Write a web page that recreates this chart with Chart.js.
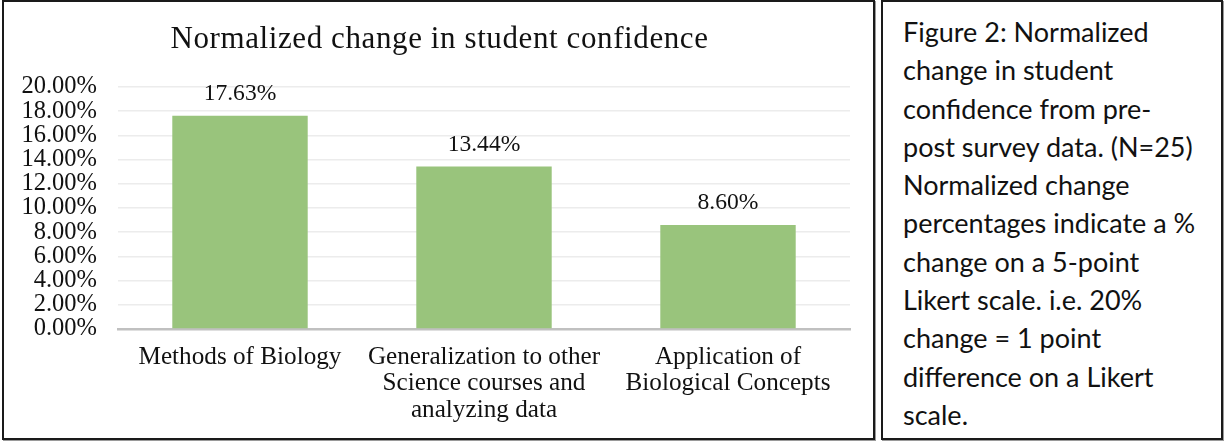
<!DOCTYPE html>
<html>
<head>
<meta charset="utf-8">
<script src="https://cdn.jsdelivr.net/npm/chart.js@4.4.1/dist/chart.umd.min.js"></script>
<style>
  html, body { margin: 0; padding: 0; background: #ffffff; width: 1224px; height: 441px; overflow: hidden; }
  #chartBox {
    position: absolute; left: 2px; top: 0px; width: 869px; height: 436px;
    border: 2px solid #1a1a1a; box-shadow: 1px 1px 0 #9a9a9a;
  }
  #chartBox canvas { display: block; }
  #captionBox {
    position: absolute; left: 881px; top: 0px; width: 338px; height: 436px;
    border: 2px solid #1a1a1a; box-shadow: 1px 1px 0 #9a9a9a;
  }
  #caption {
    position: absolute; left: 20px; top: 11px;
    font-family: Lato, "Open Sans", sans-serif; font-size: 27px; line-height: 38.3px;
    color: #111; white-space: nowrap;
  }
</style>
</head>
<body>
<div id="chartBox"><canvas id="c" width="869" height="436"></canvas></div>
<div id="captionBox"><div id="caption">Figure 2: Normalized<br>change in student<br>confidence from pre-<br>post survey data. (N=25)<br>Normalized change<br>percentages indicate a %<br>change on a 5-point<br>Likert scale. i.e. 20%<br>change = 1 point<br>difference on a Likert<br>scale.</div></div>
<script>
const chartTitle = "Normalized change in student confidence";
const categories = [
  ["Methods of Biology"],
  ["Generalization to other", "Science courses and", "analyzing data"],
  ["Application of", "Biological Concepts"]
];
const values = [0.1763, 0.1344, 0.0860];
const yMin = 0, yMax = 0.20, yStep = 0.02;

const serif = "'Liberation Serif', 'Times New Roman', serif";
const textColor = "#111111";

const titlePlugin = {
  id: "spacedTitle",
  afterDraw(chart) {
    const ctx = chart.ctx;
    ctx.save();
    ctx.font = "31px " + serif;
    ctx.letterSpacing = "0.6px";
    ctx.fillStyle = textColor;
    ctx.textAlign = "center";
    ctx.textBaseline = "alphabetic";
    ctx.fillText(chartTitle, chart.width / 2 + 1, 46);
    ctx.restore();
  }
};

const valueLabels = {
  id: "valueLabels",
  afterDatasetsDraw(chart) {
    const ctx = chart.ctx;
    const meta = chart.getDatasetMeta(0);
    ctx.save();
    ctx.font = "23.6px " + serif;
    ctx.fillStyle = textColor;
    ctx.textAlign = "center";
    ctx.textBaseline = "middle";
    meta.data.forEach((bar, i) => {
      ctx.fillText((values[i] * 100).toFixed(2) + "%", bar.x, bar.y - 22);
    });
    ctx.restore();
  }
};

new Chart(document.getElementById("c"), {
  type: "bar",
  data: {
    labels: categories,
    datasets: [{
      data: values,
      backgroundColor: "#99c47c",
      borderWidth: 0,
      barPercentage: 0.555,
      categoryPercentage: 1.0
    }]
  },
  options: {
    responsive: false,
    animation: false,
    devicePixelRatio: 1,
    layout: { padding: { left: 0, right: 23, top: 85, bottom: 0 } },
    plugins: {
      legend: { display: false },
      tooltip: { enabled: false },
      title: { display: false }
    },
    scales: {
      x: {
        grid: { display: false, drawTicks: false },
        border: { display: true, color: "#c0c0c0", width: 2.5 },
        ticks: {
          color: textColor,
          font: { family: serif, size: 25.2, lineHeight: 1.05 },
          padding: 15,
          maxRotation: 0, autoSkip: false
        },
        afterFit(scale) { scale.height = 109; }
      },
      y: {
        min: yMin, max: yMax,
        grid: { color: "#ececec", lineWidth: 1.5, drawTicks: false },
        border: { display: false },
        ticks: {
          stepSize: yStep,
          autoSkip: false,
          color: textColor,
          font: { family: serif, size: 24.5, lineHeight: 1.0 },
          padding: 21,
          callback: v => (v * 100).toFixed(2) + "%"
        },
        afterFit(scale) { scale.width = 114; }
      }
    }
  },
  plugins: [valueLabels, titlePlugin]
});
</script>
</body>
</html>
